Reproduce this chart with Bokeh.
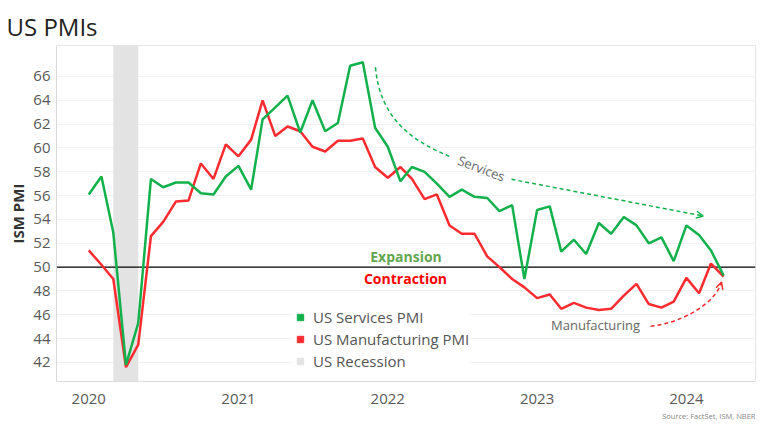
import numpy as np
import pandas as pd
from bokeh.plotting import figure
from bokeh.models import (Range1d, FixedTicker, DatetimeTickFormatter, Span, BoxAnnotation,
                          Label, Arrow, OpenHead, Legend, LegendItem, Title)
from bokeh.embed import file_html
from bokeh.resources import INLINE

# ---------------- data ----------------
title_text = "US PMIs"
source_text = "Source: FactSet, ISM, NBER"
y_label = "ISM PMI"
months = pd.date_range("2020-01-01", "2024-04-01", freq="MS")
services = [56.1, 57.6, 52.9, 41.8, 45.3, 57.4, 56.7, 57.1, 57.1, 56.2, 56.1, 57.6,
            58.5, 56.5, 62.4, 63.4, 64.4, 61.3, 64.0, 61.4, 62.1, 66.9, 67.2, 61.7,
            60.1, 57.2, 58.4, 58.0, 57.0, 55.9, 56.5, 55.9, 55.8, 54.7, 55.2, 49.0,
            54.8, 55.1, 51.3, 52.3, 51.1, 53.7, 52.8, 54.2, 53.5, 52.0, 52.5, 50.5,
            53.5, 52.7, 51.4, 49.3]
manufacturing = [51.4, 50.2, 49.0, 41.6, 43.5, 52.6, 53.8, 55.5, 55.6, 58.7, 57.4, 60.3,
                 59.3, 60.7, 64.0, 61.0, 61.8, 61.4, 60.1, 59.7, 60.6, 60.6, 60.8, 58.4,
                 57.5, 58.4, 57.4, 55.7, 56.1, 53.5, 52.8, 52.8, 50.9, 50.0, 49.0, 48.3,
                 47.4, 47.7, 46.5, 47.0, 46.6, 46.4, 46.5, 47.6, 48.6, 46.9, 46.6, 47.1,
                 49.1, 47.8, 50.3, 49.2]
series_names = ["US Services PMI", "US Manufacturing PMI", "US Recession"]
recession = ["2020-03-01", "2020-05-01"]
year_labels = ["2020", "2021", "2022", "2023", "2024"]
y_ticks = [42, 44, 46, 48, 50, 52, 54, 56, 58, 60, 62, 64, 66]
threshold = 50

GREEN = "#12b14c"
RED = "#fb2b2f"
GRAY_BAND = "#e3e3e3"
EXP_COL = "#62a750"

def to_ms(d):
    return pd.Timestamp(d).value / 1e6

x = [to_ms(d) for d in months]
MONTH_MS = 30.4375 * 86400000.0

def mx(m):
    return x[0] + m * MONTH_MS

p = figure(width=762, height=429, x_axis_type="datetime", output_backend="svg",
           toolbar_location=None,
           x_range=Range1d(mx(-2.59), mx(53.55)), y_range=Range1d(40.4, 68.6),
           min_border_left=56, min_border_right=7, min_border_top=45, min_border_bottom=48,
           background_fill_color="white", border_fill_color="white",
           outline_line_color="#e6e6e6")

# title
p.title.text = title_text
p.title.text_font = "Open Sans"
p.title.text_font_size = "24px"
p.title.text_font_style = "normal"
p.title.text_color = "#222222"
p.title.align = "left"
p.title.offset = -50
p.title.vertical_align = "bottom"
p.title.standoff = 5

# axes
p.yaxis.ticker = FixedTicker(ticks=y_ticks)
p.yaxis.axis_label = y_label
p.yaxis.axis_label_text_font = "Open Sans"
p.yaxis.axis_label_text_font_size = "15px"
p.yaxis.axis_label_text_font_style = "bold"
p.yaxis.axis_label_text_color = "#333333"
p.yaxis.axis_label_standoff = 2
p.yaxis.major_label_standoff = 0
p.yaxis.major_label_text_font = "Open Sans"
p.yaxis.major_label_text_font_size = "15px"
p.yaxis.major_label_text_color = "#595959"
p.yaxis.major_tick_line_color = None
p.yaxis.minor_tick_line_color = None
p.yaxis.axis_line_color = "#d9d9d9"

p.xaxis.ticker = FixedTicker(ticks=[to_ms(y + "-01-01") for y in year_labels])
fmt = "%Y"
p.xaxis.formatter = DatetimeTickFormatter(years=fmt, months=fmt, days=fmt, hours=fmt,
                                          minutes=fmt, seconds=fmt, milliseconds=fmt,
                                          microseconds=fmt, hourmin=fmt, minsec=fmt)
p.xaxis.major_label_standoff = 6
p.xaxis.major_label_text_font = "Open Sans"
p.xaxis.major_label_text_font_size = "15px"
p.xaxis.major_label_text_color = "#595959"
p.xaxis.major_tick_line_color = None
p.xaxis.minor_tick_line_color = None
p.xaxis.axis_line_color = "#dddddd"

p.xgrid.visible = False
p.ygrid.grid_line_color = "#f1f1f1"

# recession band
band = BoxAnnotation(left=to_ms(recession[0]), right=to_ms(recession[1]),
                     fill_color=GRAY_BAND, fill_alpha=1.0, line_color=None, level="underlay")
p.add_layout(band)

p.add_layout(Span(location=threshold, dimension="width", line_color="black",
                  line_width=1.2, level="underlay"))

p.line(x, manufacturing, line_color=RED, line_width=2.5)
p.line(x, services, line_color=GREEN, line_width=2.5)

# legend (square swatches; NaN points draw nothing in the plot)
r1 = p.scatter(x=[np.nan], y=[np.nan], marker="square", size=7, color=GREEN)
r2 = p.scatter(x=[np.nan], y=[np.nan], marker="square", size=7, color=RED)
r3 = p.scatter(x=[np.nan], y=[np.nan], marker="square", size=7, color=GRAY_BAND)
legend = Legend(items=[LegendItem(label=series_names[0], renderers=[r1]),
                       LegendItem(label=series_names[1], renderers=[r2]),
                       LegendItem(label=series_names[2], renderers=[r3])],
                location=(236, 10), glyph_width=16, glyph_height=16, label_height=20,
                label_standoff=5, spacing=2, padding=0, margin=0,
                border_line_color=None, background_fill_color="white",
                background_fill_alpha=1.0, label_text_font="Open Sans",
                label_text_font_size="15px", label_text_color="#555555")
p.add_layout(legend)

# annotations
p.add_layout(Label(x=mx(25.48), y=50.9, text="Expansion", text_align="center",
                   text_baseline="middle", text_font="Open Sans", text_font_size="14px",
                   text_font_style="bold", text_color=EXP_COL))
p.add_layout(Label(x=mx(25.44), y=49.07, text="Contraction", text_align="center",
                   text_baseline="middle", text_font="Open Sans", text_font_size="14px",
                   text_font_style="bold", text_color="#ff0000"))

svc_curve_m = [23.03, 23.38, 25.98, 29.19]
svc_curve_v = [66.78, 62.45, 60.55, 59.20]
p.bezier(x0=[mx(svc_curve_m[0])], y0=[svc_curve_v[0]],
         cx0=[mx(svc_curve_m[1])], cy0=[svc_curve_v[1]],
         cx1=[mx(svc_curve_m[2])], cy1=[svc_curve_v[2]],
         x1=[mx(svc_curve_m[3])], y1=[svc_curve_v[3]],
         line_color=GREEN, line_width=1.5, line_dash="4 3")
p.add_layout(Arrow(end=OpenHead(size=7, line_color=GREEN, line_width=1.5),
                   x_start=mx(33.95), y_start=57.37, x_end=mx(49.35), y_end=54.29,
                   line_color=GREEN, line_width=1.5, line_dash="4 3"))
p.add_layout(Label(x=mx(31.54), y=58.29, text="Services", angle=-21, angle_units="deg",
                   text_align="center", text_baseline="middle", text_font="Open Sans",
                   text_font_size="13px", text_color="#666666"))

mfg_curve_m = [45.12, 47.93, 50.42, 50.82]
mfg_curve_v = [45.03, 45.37, 47.14, 48.74]
p.bezier(x0=[mx(mfg_curve_m[0])], y0=[mfg_curve_v[0]],
         cx0=[mx(mfg_curve_m[1])], cy0=[mfg_curve_v[1]],
         cx1=[mx(mfg_curve_m[2])], cy1=[mfg_curve_v[2]],
         x1=[mx(mfg_curve_m[3])], y1=[mfg_curve_v[3]],
         line_color=RED, line_width=1.5, line_dash="4 3")
p.add_layout(Arrow(end=OpenHead(size=7, line_color=RED, line_width=1.5),
                   x_start=mx(50.62), y_start=48.06, x_end=mx(50.82), y_end=48.74,
                   line_alpha=0))
p.add_layout(Label(x=mx(40.70), y=45.15, text="Manufacturing", text_align="center",
                   text_baseline="middle", text_font="Open Sans", text_font_size="13px",
                   text_color="#666666"))

src = Title(text=source_text, align="right", text_font="Open Sans", text_font_size="7.5px",
            text_font_style="normal", text_color="#888888", standoff=4)
p.add_layout(src, "below")

open("out.html", "w").write(file_html(p, INLINE))
